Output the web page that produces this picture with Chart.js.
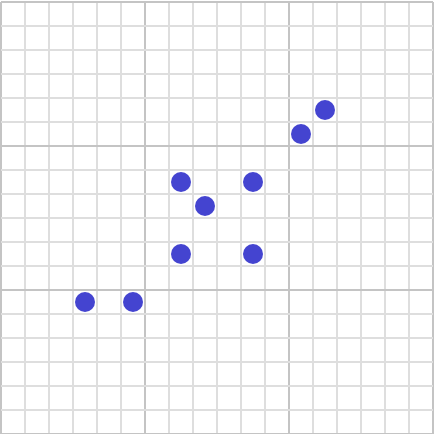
<!DOCTYPE html>
<html>
<head>
<meta charset="utf-8">
<script src="https://cdn.jsdelivr.net/npm/chart.js@4"></script>
<style>
  html, body { margin: 0; padding: 0; background: #ffffff; }
  #wrap { width: 434px; height: 434px; }
</style>
</head>
<body>
<div id="wrap"><canvas id="scatter-chart" width="434" height="434"></canvas></div>
<script>
// point positions in grid units (0..18 on both axes, y up)
const xValues = [3.5, 5.5, 7.5, 10.5, 8.5, 7.5, 10.5, 12.5, 13.5];
const yValues = [5.5, 5.5, 10.5, 10.5, 9.5, 7.5, 7.5, 12.5, 13.5];
const axisMin = 0;
const axisMax = 18;
const majorEvery = 6;

const points = xValues.map((x, i) => ({ x: x, y: yValues[i] }));

const gridColor = ctx => (ctx.tick && ctx.tick.value % majorEvery === 0) ? '#c4c4c4' : '#dedede';

const axis = {
    type: 'linear',
    min: axisMin,
    max: axisMax,
    ticks: { display: false, stepSize: 1 },
    grid: { color: gridColor, lineWidth: 2, drawTicks: false },
    border: { display: false }
};

const ctx = document.getElementById('scatter-chart').getContext('2d');
new Chart(ctx, {
    type: 'scatter',
    data: {
        datasets: [{
            data: points,
            backgroundColor: '#4444d0',
            borderColor: '#4444d0',
            borderWidth: 0,
            pointRadius: 10,
            pointHoverRadius: 10
        }]
    },
    options: {
        responsive: false,
        animation: false,
        layout: { padding: { left: 1, right: 1, top: 2, bottom: 0 }, autoPadding: false },
        plugins: {
            legend: { display: false },
            tooltip: { enabled: false }
        },
        scales: { x: axis, y: axis }
    }
});
</script>
</body>
</html>
